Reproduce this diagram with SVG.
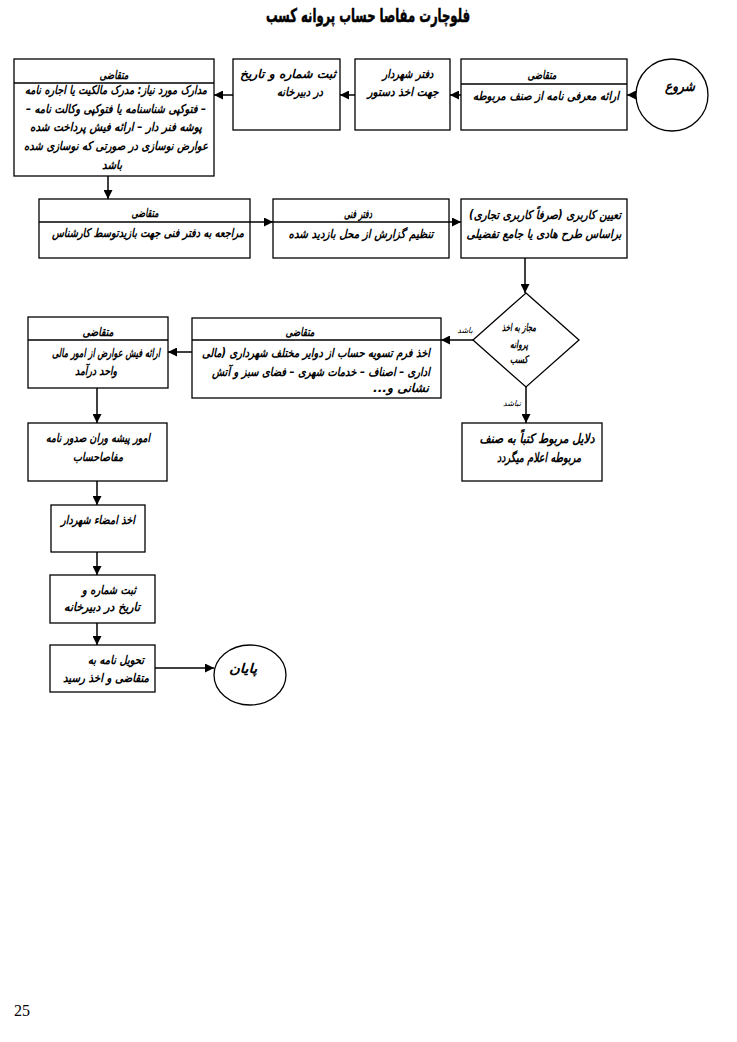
<svg xmlns="http://www.w3.org/2000/svg" width="737" height="1042" viewBox="0 0 737 1042">
<style>
.b{fill:#fff;stroke:#000;stroke-width:1.3}
.l{fill:none;stroke:#000;stroke-width:1.3}
.t{font-family:"DejaVu Sans",sans-serif;font-size:12px;font-weight:bold;font-style:italic;text-anchor:middle;direction:rtl;fill:#000}
.h{font-family:"DejaVu Sans",sans-serif;font-size:12px;font-weight:bold;font-style:italic;text-anchor:middle;direction:rtl;fill:#000}
.s{font-family:"DejaVu Sans",sans-serif;font-size:8px;font-style:italic;text-anchor:middle;direction:rtl;fill:#000}
.c{fill:none;stroke:#000;stroke-width:1.5;marker-end:url(#a)}
</style>
<defs>
<marker id="a" markerUnits="userSpaceOnUse" markerWidth="9" markerHeight="9" refX="9" refY="4.5" orient="auto" viewBox="0 0 9 9">
<path d="M0,0 L9,4.5 L0,9 z" fill="#000"/>
</marker>
</defs>
<rect width="737" height="1042" fill="#fff"/>
<text x="368" y="22" textLength="204" lengthAdjust="spacingAndGlyphs" style="font-family:'DejaVu Sans',sans-serif;font-size:19px;font-weight:bold;text-anchor:middle;direction:rtl;stroke:#000;stroke-width:0.5">فلوچارت مفاصا حساب پروانه کسب</text>

<g id="start">
<circle cx="672" cy="95" r="36" class="b"/>
<text x="680" y="91" class="t" style="font-size:14px" textLength="30" lengthAdjust="spacingAndGlyphs">شروع</text>
</g>
<g id="n1">
<rect x="461" y="59" width="166" height="71" class="b"/>
<line x1="461" y1="84" x2="627" y2="84" class="l"/>
<text x="542" y="79" class="h" textLength="29" lengthAdjust="spacingAndGlyphs">متقاضی</text>
<text x="546" y="100" class="t" textLength="146" lengthAdjust="spacingAndGlyphs">ارائه معرفی نامه از صنف مربوطه</text>
</g>
<g id="n2">
<rect x="355" y="59" width="95" height="71" class="b"/>
<text x="408" y="78" class="t" textLength="51" lengthAdjust="spacingAndGlyphs">دفتر شهردار</text>
<text x="403" y="96" class="t" textLength="71" lengthAdjust="spacingAndGlyphs">جهت اخذ دستور</text>
</g>
<g id="n3">
<rect x="233" y="59" width="107" height="71" class="b"/>
<text x="288" y="78" class="t" textLength="96" lengthAdjust="spacingAndGlyphs">ثبت شماره و تاریخ</text>
<text x="300" y="96" class="t" textLength="46" lengthAdjust="spacingAndGlyphs">در دبیرخانه</text>
</g>
<g id="n4">
<rect x="14" y="59" width="200" height="117" class="b"/>
<line x1="14" y1="83" x2="214" y2="83" class="l"/>
<text x="114" y="79" class="h" textLength="29" lengthAdjust="spacingAndGlyphs">متقاضی</text>
<text x="116" y="94" class="t" textLength="182" lengthAdjust="spacingAndGlyphs">مدارک مورد نیاز: مدرک مالکیت یا اجاره نامه</text>
<text x="116" y="113" class="t" textLength="180" lengthAdjust="spacingAndGlyphs">– فتوکپی شناسنامه یا فتوکپی وکالت نامه –</text>
<text x="116" y="131" class="t" textLength="172" lengthAdjust="spacingAndGlyphs">پوشه فنر دار – ارائه فیش پرداخت شده</text>
<text x="116" y="150" class="t" textLength="184" lengthAdjust="spacingAndGlyphs">عوارض نوسازی در صورتی که نوسازی شده</text>
<text x="112" y="169" class="t" textLength="20" lengthAdjust="spacingAndGlyphs">باشد</text>
</g>
<g id="n5">
<rect x="39" y="199" width="211" height="59" class="b"/>
<line x1="39" y1="222" x2="250" y2="222" class="l"/>
<text x="145" y="217" class="h" textLength="27" lengthAdjust="spacingAndGlyphs">متقاضی</text>
<text x="148" y="237" class="t" textLength="192" lengthAdjust="spacingAndGlyphs">مراجعه به دفتر فنی جهت بازیدتوسط کارشناس</text>
</g>
<g id="n6">
<rect x="273" y="199" width="176" height="59" class="b"/>
<text x="358" y="218" class="h" textLength="28" lengthAdjust="spacingAndGlyphs">دفتر فنی</text>
<text x="361" y="238" class="t" textLength="145" lengthAdjust="spacingAndGlyphs">تنظیم گزارش از محل بازدید شده</text>
</g>
<g id="n7">
<rect x="461" y="199" width="166" height="59" class="b"/>
<text x="545" y="219" class="t" textLength="152" lengthAdjust="spacingAndGlyphs">تعیین کاربری (صرفاً کاربری تجاری)</text>
<text x="544" y="238" class="t" textLength="155" lengthAdjust="spacingAndGlyphs">براساس طرح هادی یا جامع تفضیلی</text>
</g>
<g id="d1">
<polygon points="526,293 579,340 526,387 473,340" class="b"/>
<text x="519" y="331" class="t" style="font-size:10.5px" textLength="34" lengthAdjust="spacingAndGlyphs">مجاز به اخذ</text>
<text x="519" y="348" class="t" style="font-size:10.5px" textLength="18" lengthAdjust="spacingAndGlyphs">پروانه</text>
<text x="519" y="363" class="t" style="font-size:10.5px" textLength="18" lengthAdjust="spacingAndGlyphs">کسب</text>
</g>
<g id="n8">
<rect x="192" y="318" width="249" height="80" class="b"/>
<line x1="192" y1="340" x2="441" y2="340" class="l"/>
<text x="300" y="336" class="h" textLength="29" lengthAdjust="spacingAndGlyphs">متقاضی</text>
<text x="316" y="357" class="t" textLength="228" lengthAdjust="spacingAndGlyphs">اخذ فرم تسویه حساب از دوایر مختلف شهرداری (مالی</text>
<text x="321" y="376" class="t" textLength="218" lengthAdjust="spacingAndGlyphs">اداری – اصناف – خدمات شهری – فضای سبز و آتش</text>
<text x="401" y="392" class="t" textLength="56" lengthAdjust="spacingAndGlyphs">نشانی و...</text>
</g>
<g id="n9">
<rect x="462" y="423" width="140" height="58" class="b"/>
<text x="537" y="443" class="t" style="font-size:13px" textLength="115" lengthAdjust="spacingAndGlyphs">دلایل مربوط کتباً به صنف</text>
<text x="539" y="462" class="t" style="font-size:13px" textLength="84" lengthAdjust="spacingAndGlyphs">مربوطه اعلام میگردد</text>
</g>
<g id="n10">
<rect x="28" y="317" width="140" height="71" class="b"/>
<line x1="28" y1="340" x2="168" y2="340" class="l"/>
<text x="98" y="336" class="h" textLength="31" lengthAdjust="spacingAndGlyphs">متقاضی</text>
<text x="106" y="357" class="t" textLength="108" lengthAdjust="spacingAndGlyphs">ارائه فیش عوارض از امور مالی</text>
<text x="96" y="375" class="t" textLength="42" lengthAdjust="spacingAndGlyphs">واحد درآمد</text>
</g>
<g id="n11">
<rect x="28" y="423" width="139" height="58" class="b"/>
<text x="98" y="442" class="t" textLength="104" lengthAdjust="spacingAndGlyphs">امور پیشه وران صدور نامه</text>
<text x="98" y="461" class="t" textLength="50" lengthAdjust="spacingAndGlyphs">مفاصاحساب</text>
</g>
<g id="n12">
<rect x="51" y="505" width="94" height="47" class="b"/>
<text x="98" y="524" class="t" textLength="74" lengthAdjust="spacingAndGlyphs">اخذ امضاء شهردار</text>
</g>
<g id="n13">
<rect x="50" y="575" width="105" height="48" class="b"/>
<text x="109" y="594" class="t" textLength="54" lengthAdjust="spacingAndGlyphs">ثبت شماره و</text>
<text x="102" y="611" class="t" textLength="76" lengthAdjust="spacingAndGlyphs">تاریخ در دبیرخانه</text>
</g>
<g id="n14">
<rect x="50" y="645" width="105" height="47" class="b"/>
<text x="116" y="664" class="t" textLength="56" lengthAdjust="spacingAndGlyphs">تحویل نامه به</text>
<text x="106" y="682" class="t" textLength="86" lengthAdjust="spacingAndGlyphs">متقاضی و اخذ رسید</text>
</g>
<g id="end">
<ellipse cx="250" cy="675" rx="36" ry="30" class="b"/>
<text x="243" y="673" class="t" style="font-size:13px" textLength="28" lengthAdjust="spacingAndGlyphs">پایان</text>
</g>

<g id="connectors">
<line x1="636" y1="95" x2="627" y2="95" class="c"/>
<line x1="461" y1="95" x2="450" y2="95" class="c"/>
<line x1="355" y1="95" x2="340" y2="95" class="c"/>
<line x1="233" y1="95" x2="214" y2="95" class="c"/>
<line x1="108" y1="176" x2="108" y2="199" class="c"/>
<line x1="250" y1="222" x2="273" y2="222" class="c"/>
<line x1="273" y1="222" x2="461" y2="222" class="c"/>
<line x1="525" y1="258" x2="525" y2="293" class="c"/>
<line x1="473" y1="340" x2="441" y2="340" class="c"/>
<line x1="526" y1="387" x2="526" y2="423" class="c"/>
<line x1="192" y1="352" x2="168" y2="352" class="c"/>
<line x1="97" y1="388" x2="97" y2="423" class="c"/>
<line x1="97" y1="481" x2="97" y2="505" class="c"/>
<line x1="97" y1="552" x2="97" y2="575" class="c"/>
<line x1="97" y1="623" x2="97" y2="645" class="c"/>
<line x1="155" y1="668" x2="214" y2="668" class="c"/>
<text x="465" y="333" class="s">باشد</text>
<text x="512" y="406" class="s">نباشد</text>
</g>
<text x="22" y="1016" style="font-family:'Liberation Serif',serif;font-size:16px;text-anchor:middle">25</text>
</svg>
